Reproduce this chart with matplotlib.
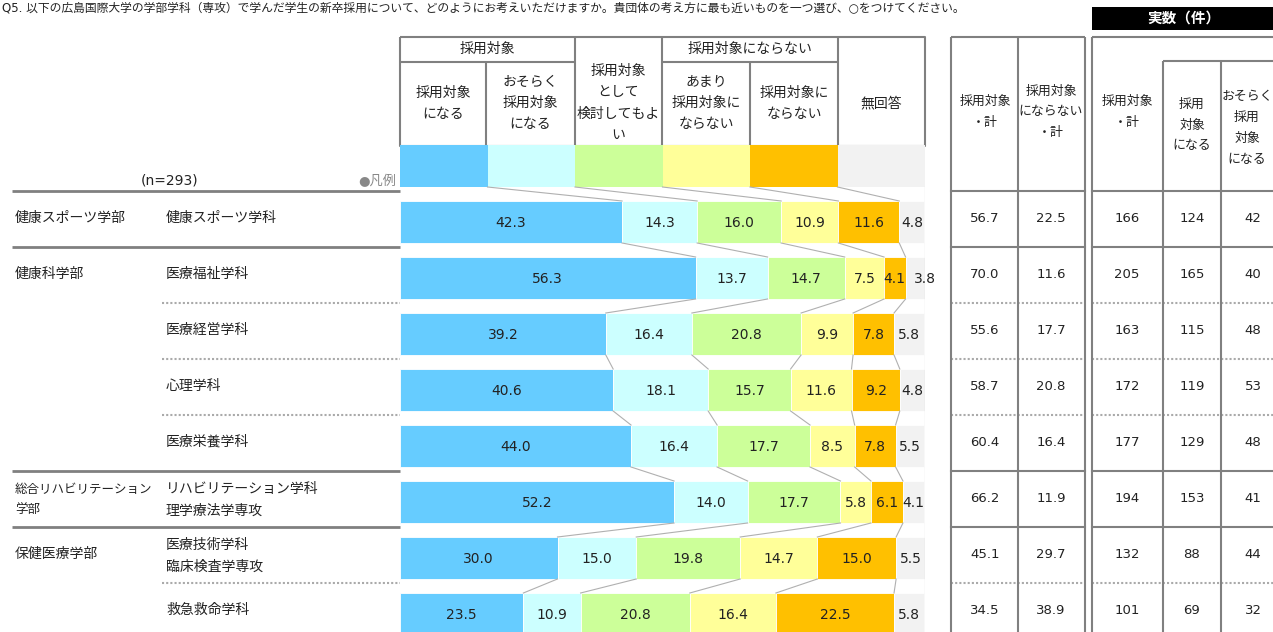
import numpy as np
import matplotlib.pyplot as plt

plt.rcParams['font.family'] = ['DejaVu Sans', 'Noto Sans CJK JP']

# ---- data ----
faculties = ["健康スポーツ学部", "健康科学部", "総合リハビリテーション\n学部", "保健医療学部"]
faculty_rows = [0, 1, 5, 6]          # first row of each faculty
departments = ["健康スポーツ学科", "医療福祉学科", "医療経営学科", "心理学科", "医療栄養学科",
               "リハビリテーション学科\n理学療法学専攻", "医療技術学科\n臨床検査学専攻", "救急救命学科"]

legend_labels = ["採用対象\nになる", "おそらく\n採用対象\nになる", "採用対象\nとして\n検討してもよ\nい",
                 "あまり\n採用対象に\nならない", "採用対象に\nならない", "無回答"]
colors = ["#66CCFF", "#CCFFFF", "#CCFF99", "#FFFF99", "#FFC000", "#F2F2F2"]

s_yes = [42.3, 56.3, 39.2, 40.6, 44.0, 52.2, 30.0, 23.5]
s_maybe = [14.3, 13.7, 16.4, 18.1, 16.4, 14.0, 15.0, 10.9]
s_consider = [16.0, 14.7, 20.8, 15.7, 17.7, 17.7, 19.8, 20.8]
s_rather_no = [10.9, 7.5, 9.9, 11.6, 8.5, 5.8, 14.7, 16.4]
s_no = [11.6, 4.1, 7.8, 9.2, 7.8, 6.1, 15.0, 22.5]
s_na = [4.8, 3.8, 5.8, 4.8, 5.5, 4.1, 5.5, 5.8]

total_yes = [56.7, 70.0, 55.6, 58.7, 60.4, 66.2, 45.1, 34.5]
total_no = [22.5, 11.6, 17.7, 20.8, 16.4, 11.9, 29.7, 38.9]
cnt_yes = [166, 205, 163, 172, 177, 194, 132, 101]
cnt_yes1 = [124, 165, 115, 119, 129, 153, 88, 69]
cnt_yes2 = [42, 40, 48, 53, 48, 41, 44, 32]

series = [s_yes, s_maybe, s_consider, s_rather_no, s_no, s_na]

W, H = 1273, 632
fig = plt.figure(figsize=(W / 100, H / 100), dpi=100)
ax0 = fig.add_axes([0, 0, 1, 1])
ax0.set_xlim(0, W)
ax0.set_ylim(H, 0)
ax0.axis("off")

LC = "#808080"
DOT = "#AAAAAA"
TXT = "#222222"
fs_j = 10
ls_j = 1.65
pitch = 56
row0 = 222

# title
fig.text(2 / W, 1 - 1 / H, "Q5. 以下の広島国際大学の学部学科（専攻）で学んだ学生の新卒採用について、どのようにお考えいただけますか。"
         "貴団体の考え方に最も近いものを一つ選び、○をつけてください。",
         fontsize=8.5, color=TXT, va="top", ha="left")

# ---- bar axes ----
ax = fig.add_axes([400 / W, 0, 525 / W, 1])
ax.set_xlim(0, 100)
ax.set_ylim((H - row0) / pitch, (0 - row0) / pitch)
ax.axis("off")
ax.patch.set_alpha(0)

n = len(departments)
rows = np.arange(n)
bh = 0.75
left = np.zeros(n)
for si, (vals, col) in enumerate(zip(series, colors)):
    vals = np.array(vals)
    ax.barh(rows, vals, left=left, height=bh, color=col, edgecolor="white", linewidth=0.6)
    for r, v, l in zip(rows, vals, left):
        x = l + v / 2
        if si == len(series) - 1 and v < 4:
            x = 100
        ax.text(x, r + 0.02, f"{v:.1f}", ha="center", va="center", fontsize=10, color=TXT)
    left = left + vals

# legend row (row -1)
leg_w = 100 / len(colors)
for k, col in enumerate(colors):
    ax.barh(-1, leg_w, left=k * leg_w, height=bh, color=col, linewidth=0)

# connector lines
cums = [np.cumsum([s[r] for s in series]) for r in range(n)]
prev = [leg_w * (k + 1) for k in range(5)]
prev_y = -1
for r in range(n):
    for k in range(5):
        ax.plot([prev[k], cums[r][k]], [prev_y + bh / 2, r - bh / 2], color="#B0B0B0", lw=0.8)
    prev = list(cums[r][:5])
    prev_y = r
ax.plot([100, 100], [-1 + bh / 2, n + 1], color="#B0B0B0", lw=0.8)

# ---- header of bar chart ----
hl = dict(color=LC, lw=1.5, solid_capstyle="butt")
ax0.plot([400, 925, 925, 400, 400], [37, 37, 146, 146, 37], **hl)
for x in [575, 662, 838]:
    ax0.plot([x, x], [37, 146], **hl)
for x in [486, 750]:
    ax0.plot([x, x], [62, 146], **hl)
ax0.plot([400, 575], [62, 62], **hl)
ax0.plot([662, 838], [62, 62], **hl)
ax0.text(487, 49, "採用対象", ha="center", va="center", fontsize=fs_j, color=TXT)
ax0.text(750, 49, "採用対象にならない", ha="center", va="center", fontsize=fs_j, color=TXT)
col_x = [443, 530, 618, 706, 794, 881]
for cx, lab in zip(col_x, legend_labels):
    ax0.text(cx, 103, lab, ha="center", va="center", fontsize=fs_j, color=TXT, linespacing=ls_j)

ax0.text(170, 181, "(n=293)", ha="center", va="center", fontsize=10, color=TXT)
ax0.text(396, 181, "●凡例", ha="right", va="center", fontsize=9.5, color="#888888")

# ---- left labels ----
for lab, r in zip(faculties, faculty_rows):
    y = row0 + pitch * r - (4 if "\n" not in lab else 2)
    fs = 9 if "リハビリ" in lab else fs_j
    ax0.text(15, y, lab, ha="left", va="center", fontsize=fs, color=TXT, linespacing=ls_j * fs_j / fs)
for r, lab in enumerate(departments):
    y = row0 + pitch * r - (4 if "\n" not in lab else 2)
    ax0.text(166, y, lab, ha="left", va="center", fontsize=fs_j, color=TXT, linespacing=ls_j)

# row separators
bounds = [191 + pitch * i for i in range(n + 1)]
solid_b = {0, 1, 5, 6}
for i in range(n):
    y = bounds[i]
    if i in solid_b:
        ax0.plot([12, 400], [y, y], color=LC, lw=2, solid_capstyle="butt")
        ax0.plot([951, 1085], [y, y], color=LC, lw=1.5)
        ax0.plot([1092, W], [y, y], color=LC, lw=1.5)
    else:
        ax0.plot([162, 400], [y, y], color=DOT, lw=1.5, ls=(0, (1, 1)))
        ax0.plot([951, 1085], [y, y], color=DOT, lw=1.5, ls=(0, (1, 1)))
        ax0.plot([1092, W], [y, y], color=DOT, lw=1.5, ls=(0, (1, 1)))

# ---- right tables ----
tl = dict(color=LC, lw=1.5, solid_capstyle="butt")
for x in [951, 1018, 1085, 1092]:
    ax0.plot([x, x], [37, H], **tl)
for x in [1163, 1221]:
    ax0.plot([x, x], [61, H], **tl)
ax0.plot([951, 1085], [37, 37], **tl)
ax0.plot([1092, W], [37, 37], **tl)
ax0.plot([1163, W], [61, 61], **tl)

ax0.fill_between([1092, W], 7, 30, color="black", lw=0)
ax0.text(1184, 18, "実数（件）", ha="center", va="center", fontsize=10.5, color="white", fontweight="bold")

fs_t = 9.3
ls_t = ls_j * fs_j / fs_t
ax0.text(985, 112, "採用対象\n・計", ha="center", va="center", fontsize=fs_t, color=TXT, linespacing=ls_t)
ax0.text(1051, 112, "採用対象\nにならない\n・計", ha="center", va="center", fontsize=fs_t, color=TXT, linespacing=ls_t)
ax0.text(1127, 112, "採用対象\n・計", ha="center", va="center", fontsize=fs_t, color=TXT, linespacing=ls_t)
ax0.text(1192, 125, "採用\n対象\nになる", ha="center", va="center", fontsize=fs_t, color=TXT, linespacing=ls_t)
ax0.text(1247, 128, "おそらく\n採用\n対象\nになる", ha="center", va="center", fontsize=fs_t, color=TXT, linespacing=ls_t)

for r in range(n):
    y = 219 + pitch * r
    ax0.text(985, y, f"{total_yes[r]:.1f}", ha="center", va="center", fontsize=9.5, color=TXT)
    ax0.text(1051, y, f"{total_no[r]:.1f}", ha="center", va="center", fontsize=9.5, color=TXT)
    ax0.text(1127, y, f"{cnt_yes[r]}", ha="center", va="center", fontsize=9.5, color=TXT)
    ax0.text(1192, y, f"{cnt_yes1[r]}", ha="center", va="center", fontsize=9.5, color=TXT)
    ax0.text(1253, y, f"{cnt_yes2[r]}", ha="center", va="center", fontsize=9.5, color=TXT)

fig.savefig("out.png", dpi=100)
